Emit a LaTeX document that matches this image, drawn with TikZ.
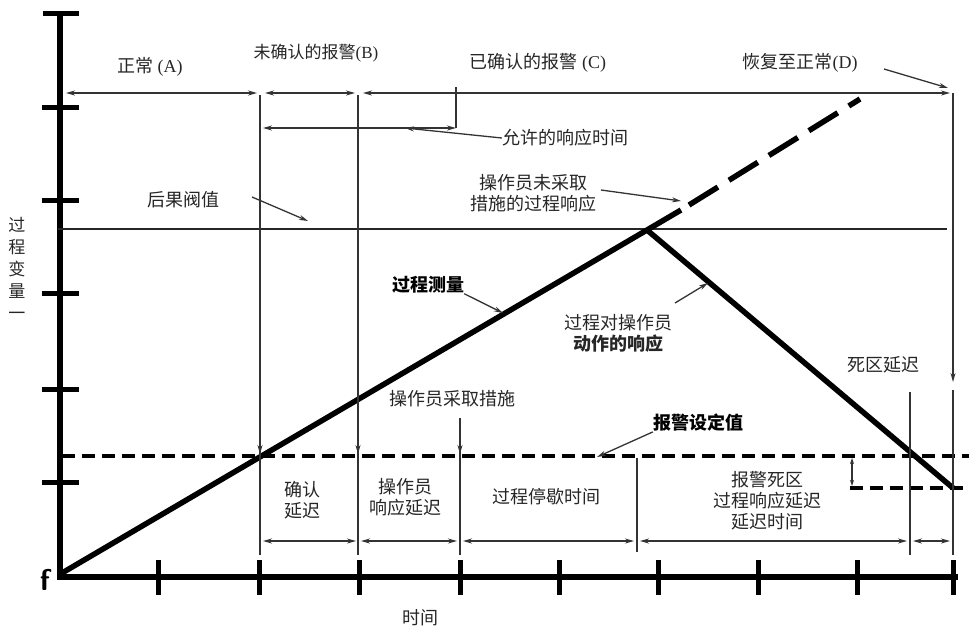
\documentclass[tikz,border=0pt]{standalone}
\usepackage{fontspec}
\setmainfont{Liberation Serif}
\newfontfamily\cjk{Noto Sans CJK SC}
\usetikzlibrary{arrows.meta}
\begin{document}
\begin{tikzpicture}[x=1pt,y=-1pt,
  lbl/.style={font=\cjk\fontsize{18}{21}\selectfont, inner sep=0pt, align=center, text=black!85},
  blbl/.style={lbl, font=\cjk\bfseries\fontsize{18}{21}\selectfont, text=black},
  thinl/.style={line width=1.3pt, black!80},
  tip/.style={thinl, -{Stealth[length=9pt,width=5pt]}},
  dim/.style={thinl, {Stealth[length=9pt,width=5pt]}-{Stealth[length=9pt,width=5pt]}},
  axis/.style={line width=6pt},
  tickm/.style={line width=5pt},
  meas/.style={line width=5.5pt},
  spline/.style={line width=3.5pt, dash pattern=on 13pt off 7pt},
]
\useasboundingbox (0,0) rectangle (969,630);
% axes
\draw[axis] (60,13) -- (60,575);
\draw[axis] (57,577) -- (958,577);
\draw[tickm] (43,13) -- (79,13);
\foreach \y in {107,200,293,389,482} \draw[tickm] (42,\y) -- (79,\y);
\foreach \x in {158,259,359,460,559,658,758,857,953} \draw[tickm] (\x,560) -- (\x,595);
\node[font=\sffamily\bfseries\fontsize{30}{30}\selectfont, inner sep=0pt] (f) at (45,580) {f};
% key points
\coordinate (O) at (62,573);
\coordinate (P) at (647,230);
\coordinate (Q) at (681,210);
\coordinate (R) at (689,205);
\coordinate (S) at (860,99);
\coordinate (E) at (953,488);
% threshold and setpoint lines
\draw[line width=2.2pt, black!85] (58,229) -- (947,229);
\draw[spline] (62,456) -- (969,456);
\draw[spline] (850,488) -- (969,488);
\draw[thinl, {Stealth[length=6pt,width=4pt]}-{Stealth[length=6pt,width=4pt]}] (852,458) -- (852,486);
% process lines
\draw[meas] (O) -- (P) -- (Q);
\draw[meas, dash pattern=on 34pt off 13pt] (R) -- (S);
\draw[meas] (P) -- (E);
% vertical lines
\draw[thinl] (260,95) -- (260,555);
\draw[thinl] (358,95) -- (358,555);
\draw[thinl] (460,418) -- (460,555);
\draw[thinl] (637,458) -- (637,552);
\draw[thinl] (910,392) -- (910,555);
\draw[tip] (953,93) -- (953,382);
\draw[thinl] (953,390) -- (953,555);
\draw[tip] (260,420) -- (260,454);
\draw[tip] (358,420) -- (358,454);
\draw[tip] (460,425) -- (460,454);
% top dimension arrows
\draw[dim] (66,93) -- (257,93);
\draw[dim] (265,93) -- (355,93);
\draw[dim] (363,93) -- (950,93);
\draw[thinl] (456,87) -- (456,128);
\draw[dim] (263,128) -- (456,128);
% bottom dimension arrows
\draw[dim] (263,541) -- (356,541);
\draw[dim] (361,541) -- (457,541);
\draw[dim] (463,541) -- (634,541);
\draw[dim] (640,541) -- (907,541);
\draw[dim] (913,541) -- (950,541);
% labels
\node[lbl] (A) at (150,67) {正常 \rmfamily(A)};
\node[lbl, font=\cjk\fontsize{17}{19}\selectfont] (B) at (316,53) {未确认的报警\rmfamily(B)};
\node[lbl] (C) at (538,63) {已确认的报警 \rmfamily(C)};
\node[lbl] (D) at (800,63) {恢复至正常\rmfamily(D)};
\coordinate (Dt) at (948,88);
\draw[tip] (884,69) -- (Dt);
\node[lbl] (resp) at (565,138) {允许的响应时间};
\coordinate (respt) at (405,128);
\draw[tip] (resp.west) -- (respt);
\node[lbl] (thr) at (183,200) {后果阀值};
\coordinate (thrt) at (308,221);
\draw[tip] (252,197) -- (thrt);
\node[lbl] (noact) at (533,193) {操作员未采取\\措施的过程响应};
\coordinate (noactt) at (681,201);
\draw[tip] (601,190) -- (noactt);
\node[blbl] (meas) at (428,285) {过程测量};
\coordinate (meast) at (503,313);
\draw[tip] (meas.south east) -- (meast);
\node[lbl] (opresp) at (618,333) {过程对操作员\\\bfseries 动作的响应};
\coordinate (oprespt) at (708,283);
\draw[tip] (675,303) -- (oprespt);
\node[lbl] (dead) at (883,365) {死区延迟};
\node[lbl] (act) at (452,399) {操作员采取措施};
\node[blbl] (sp) at (698,423) {报警设定值};
\coordinate (spt) at (597,457);
\draw[tip] (sp.south west) -- (spt);
\node[lbl] (ack) at (302,500) {确认\\延迟};
\node[lbl] (opd) at (405,497) {操作员\\响应延迟};
\node[lbl] (pause) at (546,497) {过程停歇时间};
\node[lbl] (dband) at (767,501) {报警死区\\过程响应延迟\\延迟时间};
\node[lbl] (time) at (420,618) {时间};
\node[lbl, font=\cjk\fontsize{17}{22}\selectfont] (pv) at (17,268) {过\\程\\变\\量\\一};
\end{tikzpicture}
\end{document}
